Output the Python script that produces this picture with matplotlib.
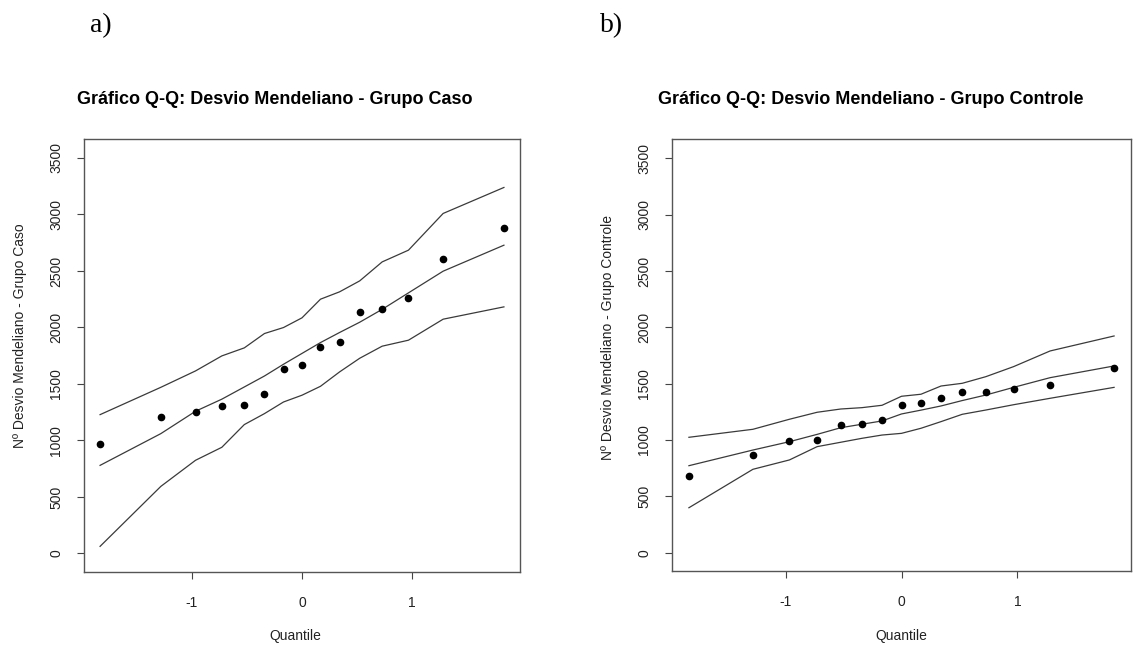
import matplotlib
matplotlib.use("Agg")
import matplotlib.pyplot as plt

# -------------------------------
# DATA
# -------------------------------
quantis = [-1.834, -1.282, -0.967, -0.728, -0.524, -0.341, -0.168, 0.0,
           0.168, 0.341, 0.524, 0.728, 0.967, 1.282, 1.834]

# a) Grupo Caso
caso_pontos = [971, 1211, 1255, 1302, 1311, 1411, 1633, 1665,
               1831, 1869, 2135, 2161, 2262, 2610, 2876]
caso_linha = [779, 1060, 1258, 1365, 1473, 1570, 1674, 1770,
              1866, 1955, 2046, 2160, 2306, 2498, 2728]
caso_sup = [1228, 1470, 1615, 1748, 1819, 1946, 1999, 2085,
            2250, 2315, 2412, 2580, 2684, 3009, 3239]
caso_inf = [62, 593, 824, 939, 1140, 1237, 1340, 1400,
            1479, 1606, 1727, 1834, 1887, 2073, 2182]

# b) Grupo Controle
ctrl_pontos = [683, 867, 991, 997, 1136, 1139, 1175, 1313,
               1331, 1370, 1423, 1423, 1453, 1488, 1636]
ctrl_linha = [772, 911, 985, 1050, 1109, 1140, 1169, 1231,
              1265, 1302, 1350, 1399, 1467, 1553, 1657]
ctrl_sup = [1024, 1095, 1184, 1246, 1275, 1287, 1308, 1388,
            1406, 1479, 1503, 1562, 1651, 1790, 1923]
ctrl_inf = [399, 740, 823, 941, 980, 1015, 1044, 1059,
            1104, 1163, 1228, 1266, 1313, 1370, 1467]

x_ticks = [-1, 0, 1]
y_ticks = [0, 500, 1000, 1500, 2000, 2500, 3000, 3500]

plt.rcParams['font.family'] = ['Liberation Sans', 'DejaVu Sans']

W, H = 1146, 652
fig = plt.figure(figsize=(W / 100, H / 100), dpi=100)


def painel(rect, pontos, linha, sup, inf):
    ax = fig.add_axes(rect)
    for serie in (sup, linha, inf):
        ax.plot(quantis, serie, color="#3a3a3a", lw=0.9)
    ax.plot(quantis, pontos, "o", color="black", ms=4.5)
    ax.set_xlim(-1.98, 1.98)
    ax.set_ylim(-165, 3668)
    ax.set_xticks(x_ticks)
    ax.set_xticklabels(["-1", "0", "1"])
    ax.set_yticks(y_ticks)
    ax.set_yticklabels([str(v) for v in y_ticks], rotation=90, va="center")
    ax.tick_params(axis="x", length=5, width=0.8, color="#444444",
                   labelsize=10, labelcolor="#222222", pad=12)
    ax.tick_params(axis="y", length=5, width=0.8, color="#444444",
                   labelsize=10, labelcolor="#222222", pad=10)
    for s in ax.spines.values():
        s.set_color("#555555")
        s.set_linewidth(1.0)
    return ax


painel([84 / W, 80 / H, 436 / W, 433 / H],
       caso_pontos, caso_linha, caso_sup, caso_inf)
painel([672 / W, 80.7 / H, 459 / W, 432 / H],
       ctrl_pontos, ctrl_linha, ctrl_sup, ctrl_inf)

# titles, axis labels
fig.text(275 / W, 1 - 100 / H, "Gráfico Q-Q: Desvio Mendeliano - Grupo Caso",
         ha="center", va="center", fontsize=13, fontweight="bold")
fig.text(871 / W, 1 - 100 / H, "Gráfico Q-Q: Desvio Mendeliano - Grupo Controle",
         ha="center", va="center", fontsize=13, fontweight="bold")

fig.text(20 / W, 1 - 336 / H, "Nº Desvio Mendeliano - Grupo Caso",
         rotation=90, ha="center", va="center", fontsize=10, color="#222222")
fig.text(608 / W, 1 - 337 / H, "Nº Desvio Mendeliano - Grupo Controle",
         rotation=90, ha="center", va="center", fontsize=10, color="#222222")

fig.text(295 / W, 1 - 636 / H, "Quantile", ha="center", va="center",
         fontsize=10, color="#222222")
fig.text(901 / W, 1 - 636 / H, "Quantile", ha="center", va="center",
         fontsize=10, color="#222222")

# panel letters
fig.text(101 / W, 1 - 26 / H, "a)", ha="center", va="center",
         fontsize=20, family="Liberation Serif")
fig.text(612 / W, 1 - 26 / H, "b)", ha="center", va="center",
         fontsize=20, family="Liberation Serif")

fig.savefig("out.png", dpi=100)
